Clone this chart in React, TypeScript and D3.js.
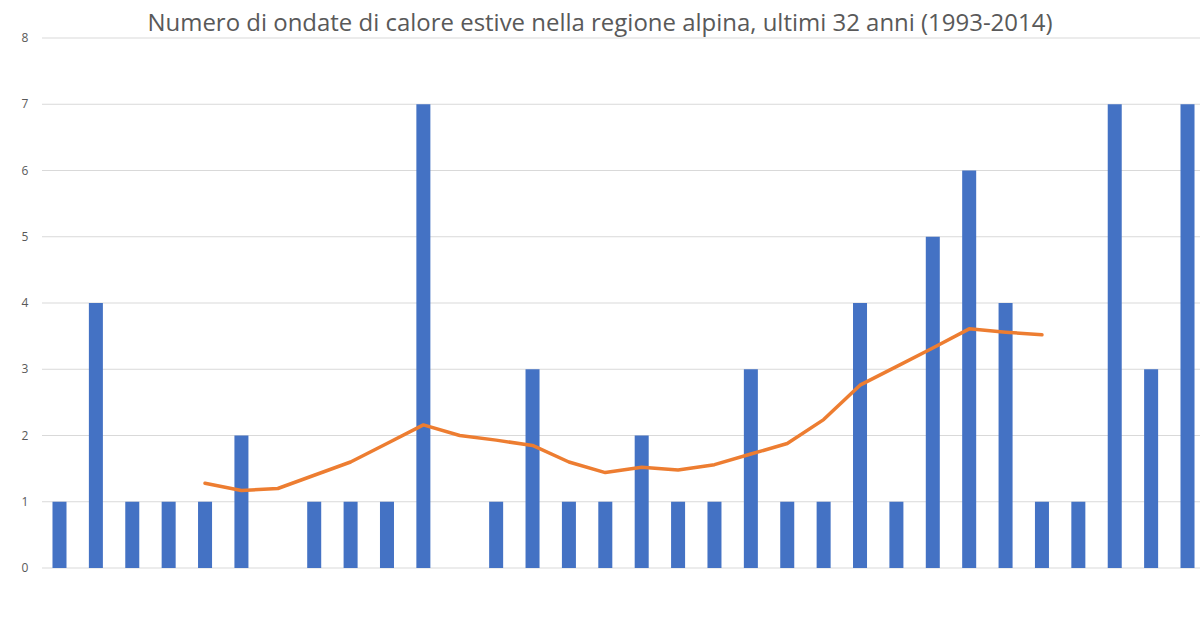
import React from "react";
import * as d3 from "d3";

const title = "Numero di ondate di calore estive nella regione alpina, ultimi 32 anni (1993-2014)";
const years = d3.range(32).map((i) => String(i + 1));
const heatwaves = [1, 4, 1, 1, 1, 2, 0, 1, 1, 1, 7, 0, 1, 3, 1, 1, 2, 1, 1, 3, 1, 1, 4, 1, 5, 6, 4, 1, 1, 7, 3, 7];
const movingAvgStart = 4;
const movingAvg = [1.28, 1.17, 1.2, 1.4, 1.6, 1.88, 2.16, 2.0, 1.93, 1.85, 1.6, 1.44, 1.52, 1.48, 1.56, 1.72, 1.88, 2.24, 2.76, 3.04, 3.32, 3.61, 3.56, 3.52];
const yTicks = [0, 1, 2, 3, 4, 5, 6, 7, 8];

export default function App() {
  const W = 1200, H = 620;
  const x = d3.scaleBand<string>().domain(years).range([41.3, 1205.7]).paddingInner(0.615).paddingOuter(0.3075);
  const y = d3.scaleLinear().domain([0, 8]).range([568, 38]);
  const line = d3
    .line<number>()
    .x((_, i) => (x(years[i + movingAvgStart]) as number) + x.bandwidth() / 2)
    .y((d) => y(d));
  return (
    <svg width={W} height={H} style={{ position: "absolute", left: 0, top: 0, background: "#fff" }}>
      <rect width={W} height={H} fill="#fff" />
      <text x={600} y={31} textAnchor="middle" fontFamily="'Open Sans', 'Noto Sans', sans-serif" fontSize={24} fill="#595959" textLength={905} lengthAdjust="spacingAndGlyphs">
        {title}
      </text>
      {yTicks.map((t) => (
        <g key={t}>
          <line x1={42} x2={1200} y1={y(t)} y2={y(t)} stroke="#d9d9d9" strokeWidth={1} />
          <text x={25} y={y(t)} dy="0.35em" textAnchor="middle" fontFamily="'Open Sans', 'Noto Sans', sans-serif" fontSize={12} fill="#595959">
            {t}
          </text>
        </g>
      ))}
      {heatwaves.map((v, i) => (
        <rect key={i} x={x(years[i])} y={y(v)} width={x.bandwidth()} height={y(0) - y(v)} fill="#4472C4" />
      ))}
      <path d={line(movingAvg) || ""} fill="none" stroke="#ED7D31" strokeWidth={3.5} strokeLinejoin="round" strokeLinecap="round" />
    </svg>
  );
}
